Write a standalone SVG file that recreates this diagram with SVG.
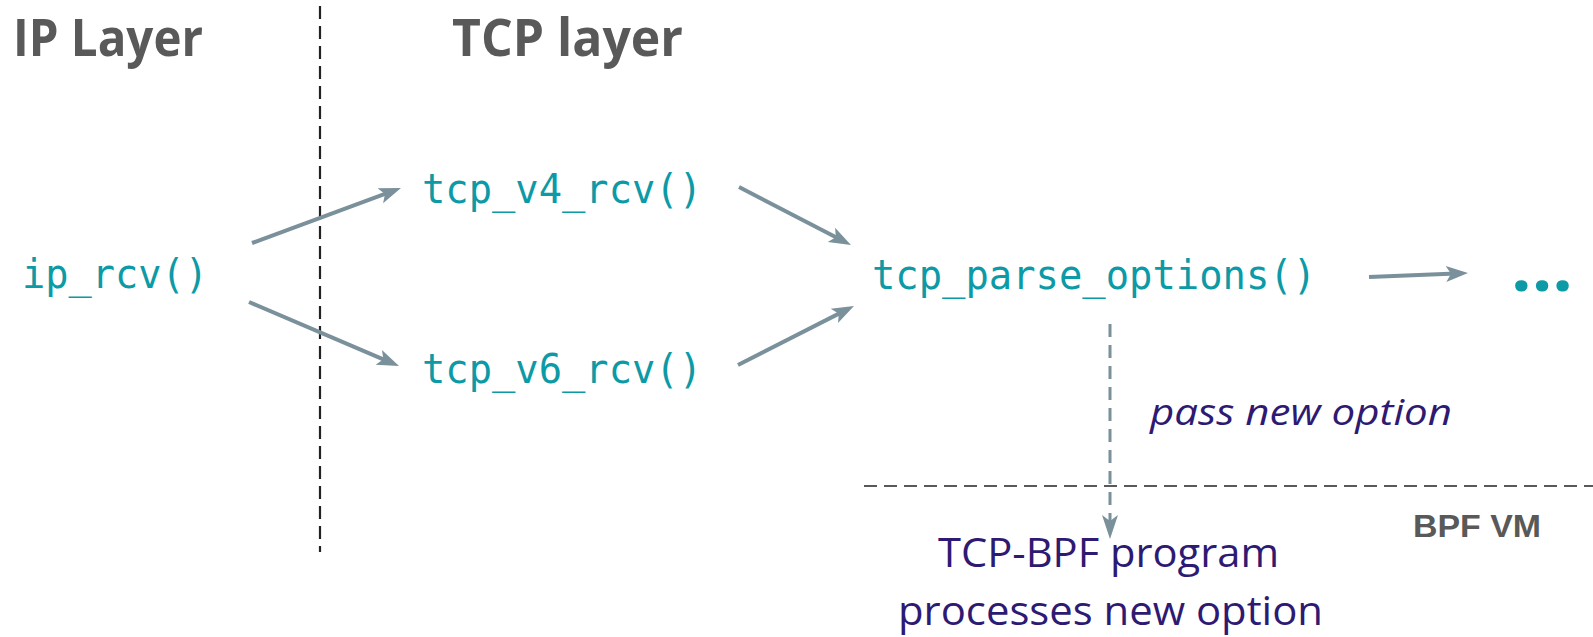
<svg xmlns="http://www.w3.org/2000/svg" width="1593" height="637" viewBox="0 0 1593 637">
<style>
.title{font-family:"Open Sans","Liberation Sans",sans-serif;font-weight:bold;font-size:52px;fill:#595959}
.code{font-family:"DejaVu Sans Mono","Liberation Mono",monospace;font-size:40px;fill:#0C9AA6}
.purple{font-family:"Open Sans","Liberation Sans",sans-serif;fill:#2E1A72}
.conn{stroke:#7A909B;stroke-width:4;fill:none}
</style>
<defs>
<marker id="ah" markerUnits="userSpaceOnUse" markerWidth="24" markerHeight="18" refX="10" refY="8" orient="auto" overflow="visible">
<path d="M0,0 L22,8 L0,16 L5,8 z" fill="#7A909B"/>
</marker>
<marker id="ahd" markerUnits="userSpaceOnUse" markerWidth="26" markerHeight="18" refX="6" refY="8" orient="auto" overflow="visible">
<path d="M0,0 L24,8 L0,16 L6,8 z" fill="#7A909B"/>
</marker>
</defs>
<rect width="1593" height="637" fill="#ffffff"/>
<g id="separators">
<line x1="320" y1="6" x2="320" y2="552" stroke="#222" stroke-width="2.2" stroke-dasharray="13 7"/>
<line x1="864" y1="486" x2="1593" y2="486" stroke="#595959" stroke-width="2.2" stroke-dasharray="13 7"/>
</g>
<g id="titles">
<text class="title" x="13" y="56" textLength="190" lengthAdjust="spacingAndGlyphs">IP Layer</text>
<text class="title" x="452" y="56" textLength="231" lengthAdjust="spacingAndGlyphs">TCP layer</text>
<text x="1413" y="537" font-family="Liberation Sans,Arial,sans-serif" font-weight="bold" font-size="31" fill="#595959" textLength="128" lengthAdjust="spacingAndGlyphs">BPF VM</text>
</g>
<g id="connectors">
<line class="conn" x1="252" y1="243" x2="389.7" y2="192.2" marker-end="url(#ah)"/>
<line class="conn" x1="249" y1="302" x2="388" y2="361.3" marker-end="url(#ah)"/>
<line class="conn" x1="739" y1="187" x2="840.3" y2="239.5" marker-end="url(#ah)"/>
<line class="conn" x1="738" y1="365" x2="843.3" y2="311.4" marker-end="url(#ah)"/>
<line class="conn" x1="1369" y1="277" x2="1456" y2="273.5" marker-end="url(#ah)"/>
<line x1="1110" y1="324" x2="1110" y2="521" stroke="#7A909B" stroke-width="3" stroke-dasharray="13 8" marker-end="url(#ahd)"/>
</g>
<g id="node-ip_rcv"><text class="code" x="22" y="288" textLength="186" lengthAdjust="spacingAndGlyphs">ip_rcv()</text></g>
<g id="node-tcp_v4_rcv"><text class="code" x="422" y="203" textLength="280" lengthAdjust="spacingAndGlyphs">tcp_v4_rcv()</text></g>
<g id="node-tcp_v6_rcv"><text class="code" x="422" y="383" textLength="280" lengthAdjust="spacingAndGlyphs">tcp_v6_rcv()</text></g>
<g id="node-tcp_parse_options"><text class="code" x="872" y="289" textLength="444" lengthAdjust="spacingAndGlyphs">tcp_parse_options()</text></g>
<g id="node-more"><text x="1511" y="291" font-family="Open Sans,Liberation Sans,sans-serif" font-weight="bold" font-size="68" fill="#0C9AA6" textLength="62" lengthAdjust="spacingAndGlyphs">...</text></g>
<g id="label-pass"><text class="purple" x="1150" y="425" font-size="36" font-style="italic" textLength="302" lengthAdjust="spacingAndGlyphs">pass new option</text></g>
<g id="node-tcp-bpf">
<text class="purple" x="938" y="567" font-size="40" textLength="341" lengthAdjust="spacingAndGlyphs">TCP-BPF program</text>
<text class="purple" x="898" y="625" font-size="40" textLength="425" lengthAdjust="spacingAndGlyphs">processes new option</text>
</g>
</svg>
